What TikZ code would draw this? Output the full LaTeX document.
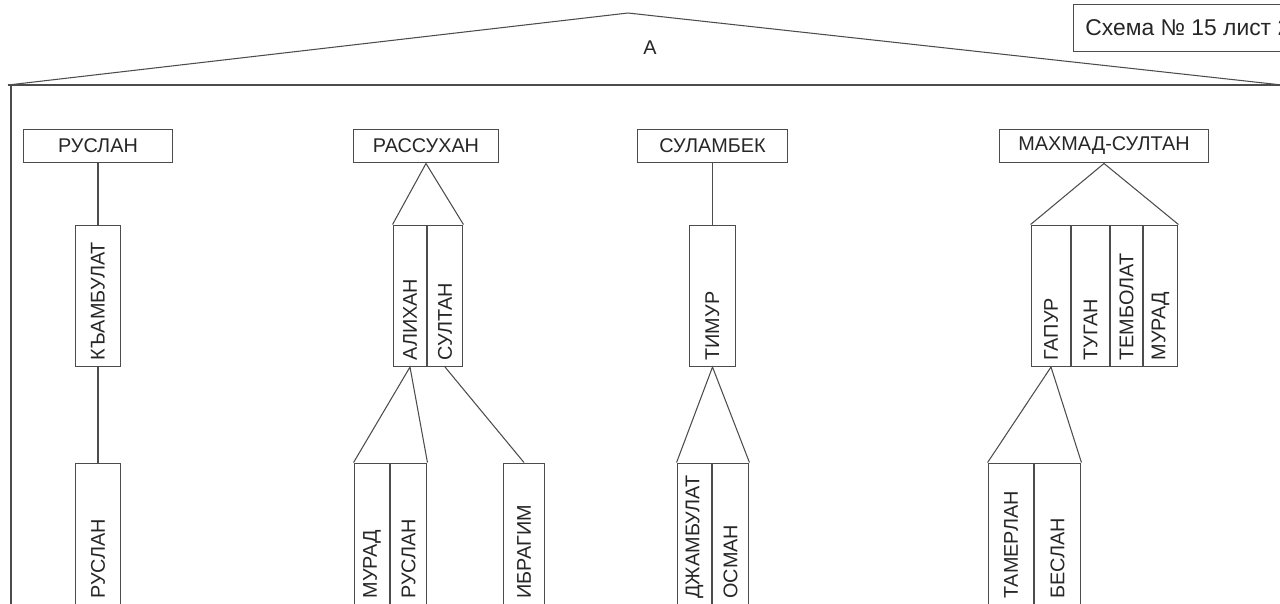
\documentclass[tikz,border=0pt]{standalone}
\usepackage{fontspec}
\setmainfont{Liberation Sans}
\newcommand{\pxu}{0.5669pt}
\tikzset{
  wire/.style={draw=black!70, line width=0.6pt},
  namebox/.style={wire, minimum height=34*\pxu, inner sep=0pt, text=black!85},
  vbox/.style={wire, rotate=90, anchor=west, minimum height=#1*\pxu,
    text width=130*\pxu, inner xsep=6*\pxu, inner ysep=0pt, align=left, text=black!85},
}
\begin{document}
\begin{tikzpicture}[x=0.02cm,y=-0.02cm,font=\fontsize{11.3}{13}\selectfont]
\useasboundingbox (0,0) rectangle (1280,603);
\clip (0,0) rectangle (1280,603);
% Roof and wall
\coordinate (apex) at (628,13);
\coordinate (lcorner) at (8,85);
\coordinate (rcorner) at (1282,85);
\coordinate (wallfoot) at (11,606);
\draw[wire] (lcorner) -- (apex) -- (rcorner);
\draw[wire] (lcorner) -- (rcorner);
\draw[wire] (11,85) -- (wallfoot);
\node[text=black!85] (roofA) at (650,48) {A};
\node[wire, anchor=north west, minimum height=47*\pxu, inner xsep=12*\pxu,
  font=\fontsize{13}{15}\selectfont, text=black!85] (sheet) at (1073,4) {Схема № 15 лист 2};
% Top row: heads of the four branches
\foreach \nm/\cx/\w/\txt in {ruslan/98/150/РУСЛАН, rassuhan/426/146/РАССУХАН,
  sulambek/712.5/151/СУЛАМБЕК, mahmad/1104/210/МАХМАД-СУЛТАН}
  \node[namebox, minimum width=\w*\pxu] (\nm) at (\cx,146) {\txt};
% Vertical boxes: name/centre x/bottom y/width/text
\foreach \nm/\cx/\yb/\w/\txt in {kamb/98/367/46/КЪАМБУЛАТ, ruslanb/98/605/46/РУСЛАН,
  alihan/410/367/34/АЛИХАН, sultan/445/367/36/СУЛТАН,
  murad/372/605/36/МУРАД, ruslanc/408.5/605/37/РУСЛАН, ibragim/524/605/42/ИБРАГИМ,
  timur/712.5/367/47/ТИМУР, dzhamb/694.5/605/35/ДЖАМБУЛАТ, osman/730.5/605/37/ОСМАН,
  gapur/1051/367/40/ГАПУР, tugan/1090.5/367/39/ТУГАН, tembolat/1126.5/367/33/ТЕМБОЛАТ,
  muradb/1160.5/367/35/МУРАД,
  tamerlan/1011/605/46/ТАМЕРЛАН, beslan/1057.5/605/47/БЕСЛАН}
  \node[vbox=\w] (\nm) at (\cx,\yb) {\txt};
% Links
\draw[wire] (ruslan.south) -- (kamb.east);
\draw[wire] (kamb.west) -- (ruslanb.east);
\draw[wire] (alihan.north east) -- (rassuhan.south) -- (sultan.south east);
\draw[wire] (murad.north east) -- (alihan.west) -- (ruslanc.south east);
\draw[wire] (sultan.west) -- (ibragim.east);
\draw[wire] (sulambek.south) -- (timur.east);
\draw[wire] (dzhamb.north east) -- (timur.west) -- (osman.south east);
\draw[wire] (gapur.north east) -- (mahmad.south) -- (muradb.south east);
\draw[wire] (tamerlan.north east) -- (gapur.west) -- (beslan.south east);
\end{tikzpicture}
\end{document}
